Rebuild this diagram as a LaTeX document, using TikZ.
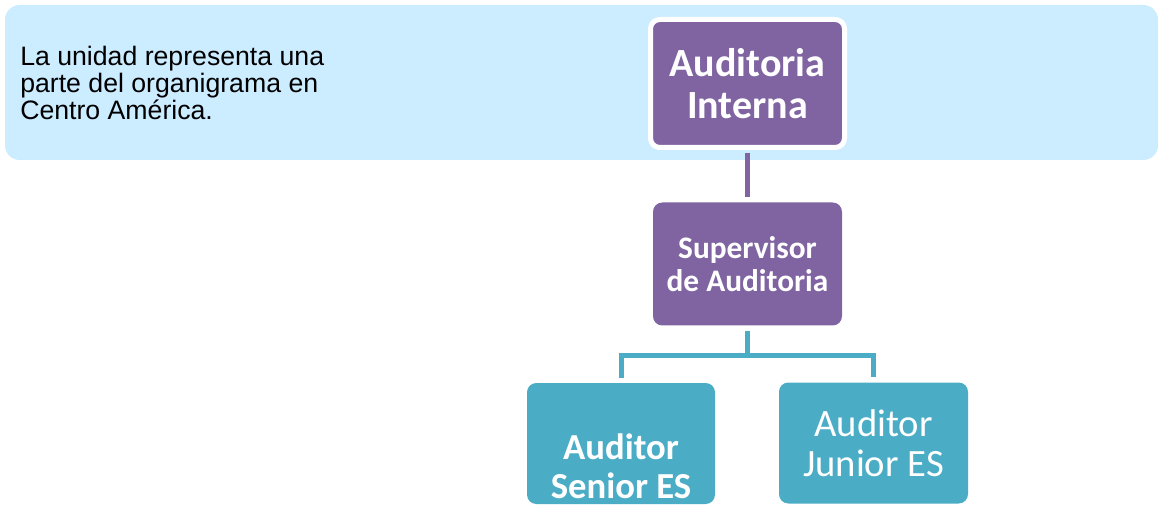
\documentclass[tikz,border=0pt]{standalone}
\usepackage{fontspec}
\setmainfont{Liberation Sans}
\newfontfamily\boxfont{Carlito}
\usepackage{tikz}
\definecolor{skyband}{RGB}{204,236,255}
\definecolor{violetbox}{RGB}{128,100,162}
\definecolor{tealbox}{RGB}{75,172,198}
\tikzset{%
    orgbox/.style={%
        rounded corners=7pt, inner sep=0pt, text=white, align=center,
        minimum width=141.75pt, minimum height=92.25pt
    },
    headbox/.style={orgbox, fill=violetbox},
    staffbox/.style={orgbox, fill=tealbox, minimum width=141pt, minimum height=90.75pt},
    orglink/.style={line width=3.75pt}
}

\begin{document}
\begin{tikzpicture}[x=0.75pt,y=-0.75pt]
%-----------------------------------------------
    \useasboundingbox (0,0) rectangle (1158,506);
    \fill[skyband,rounded corners=11pt] (5,5) rectangle (1158,160);
    \node[anchor=north west,inner sep=0pt,align=left,font=\fontsize{20}{20.4}\selectfont] (note) at (20,46)
        {La unidad representa una\\parte del organigrama en\\Centro América.};
%-----------------------------------------------
    \node[headbox,draw=white,line width=3.75pt,minimum width=145.5pt,minimum height=96pt,
          font=\boxfont\bfseries\fontsize{30}{31}\selectfont] (interna) at (747.5,83.5) {Auditoria\\Interna};
    \node[headbox,font=\boxfont\bfseries\fontsize{23.5}{24.75}\selectfont] (supervisor) at (747.5,264) {Supervisor\\de Auditoria};
    \node[staffbox] (senior) at (621,443.5) {};
    \node[text=white,align=center,inner sep=0pt,font=\boxfont\bfseries\fontsize{27.5}{29.5}\selectfont] (seniortxt) at (621,466) {Auditor\\Senior ES};
    \node[staffbox,minimum width=141.75pt,font=\boxfont\fontsize{29}{30}\selectfont] (junior) at (873.5,443) {Auditor\\Junior ES};
%-----------------------------------------------
    \draw[orglink,violetbox,shorten <=2pt,shorten >=3.75pt] (interna.south) -- (supervisor.north);
    \draw[orglink,tealbox,shorten <=3.75pt,shorten >=3.75pt] (supervisor.south) -- ++(0,29.5) -| (senior.north);
    \draw[orglink,tealbox,shorten >=3.75pt] (supervisor.south) ++(0,29.5) -| (junior.north);
\end{tikzpicture}
\end{document}
